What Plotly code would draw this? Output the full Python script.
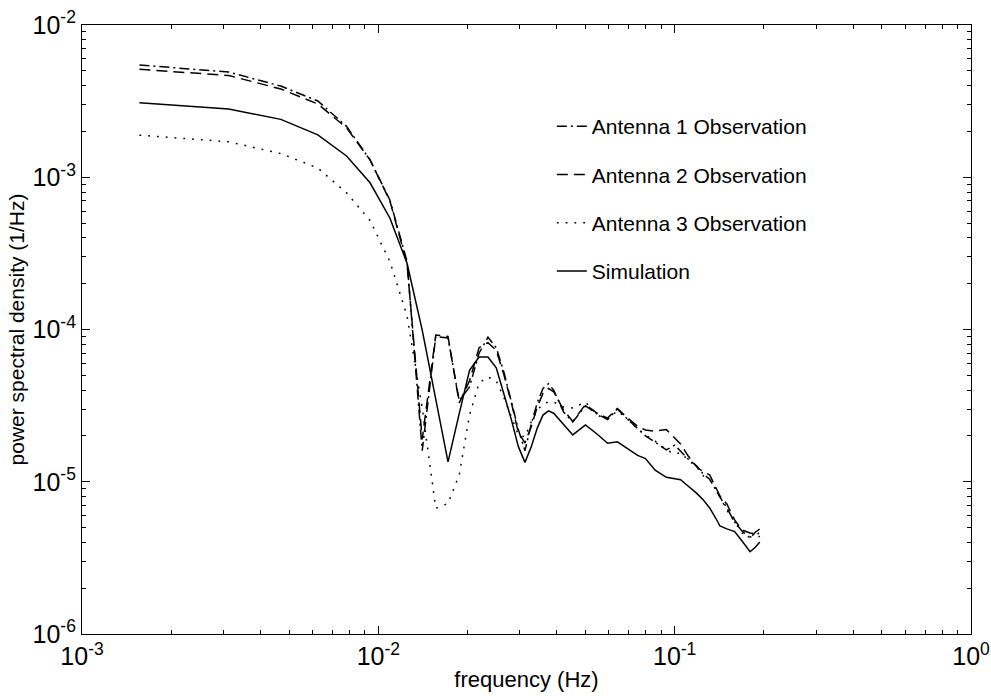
import plotly.graph_objects as go

# frequency bins (Hz)
freq = [0.0015625, 0.003125, 0.0046875, 0.00625, 0.0078125, 0.009375, 0.0109375,
        0.0125, 0.0140625, 0.015625, 0.0171875, 0.01875, 0.0203125, 0.021875,
        0.0234375, 0.025, 0.0265625, 0.028125, 0.0296875, 0.03125, 0.0328125,
        0.034375, 0.0359375, 0.0375, 0.0390625,
        0.0421875, 0.0453125, 0.05, 0.0546875, 0.059375, 0.0640625, 0.06875,
        0.075, 0.0796875, 0.0859375, 0.09375, 0.1, 0.1046875, 0.1109375,
        0.11875, 0.125, 0.13125, 0.1375, 0.1421875, 0.15, 0.159375, 0.16875,
        0.1796875, 0.1875, 0.19375]

antenna1 = [5.46e-3, 4.91e-3, 3.97e-3, 3.17e-3, 2.16e-3, 1.30e-3, 7.1e-4,
            2.8e-4, 1.6e-5, 9.0e-5, 8.8e-5, 3.4e-5, 4.2e-5, 7.0e-5,
            8.9e-5, 7.6e-5, 5.2e-5, 3.4e-5, 2.2e-5, 1.6e-5, 2.4e-5,
            3.3e-5, 4.1e-5, 4.4e-5, 4.0e-5,
            2.87e-5, 2.47e-5, 3.15e-5, 2.79e-5, 2.56e-5, 3.01e-5, 2.62e-5,
            2.25e-5, 2.0e-5, 1.82e-5, 1.62e-5, 1.74e-5, 1.59e-5, 1.41e-5,
            1.27e-5, 1.12e-5, 1.04e-5, 8.83e-6, 7.94e-6, 6.73e-6, 5.44e-6, 4.75e-6,
            4.27e-6, 4.68e-6, 4.90e-6]

antenna2 = [5.12e-3, 4.66e-3, 3.80e-3, 3.03e-3, 2.11e-3, 1.30e-3, 7.0e-4,
            2.7e-4, 1.9e-5, 9.2e-5, 9.0e-5, 3.3e-5, 4.6e-5, 7.6e-5,
            8.2e-5, 7.3e-5, 5.0e-5, 3.3e-5, 2.1e-5, 1.8e-5, 2.3e-5,
            3.1e-5, 3.8e-5, 4.1e-5, 3.9e-5,
            2.96e-5, 2.49e-5, 3.22e-5, 2.82e-5, 2.62e-5, 3.03e-5, 2.66e-5,
            2.31e-5, 2.19e-5, 2.15e-5, 2.20e-5, 1.94e-5, 1.77e-5, 1.48e-5,
            1.25e-5, 1.16e-5, 1.11e-5, 9.23e-6, 8.06e-6, 7.14e-6, 5.61e-6, 4.82e-6,
            4.61e-6, 4.54e-6, 4.34e-6]

antenna3 = [1.89e-3, 1.71e-3, 1.43e-3, 1.15e-3, 7.9e-4, 5.2e-4, 2.8e-4,
            1.23e-4, 3.05e-5, 6.7e-6, 7.2e-6, 1.11e-5, 2.74e-5, 4.46e-5,
            4.88e-5, 4.59e-5, 3.55e-5, 2.62e-5, 2.03e-5, 1.97e-5, 2.47e-5,
            2.96e-5, 3.24e-5, 3.34e-5, 3.34e-5,
            3.10e-5, 3.05e-5, 3.34e-5, 2.74e-5, 2.58e-5, 2.92e-5, 2.62e-5,
            2.22e-5, 2.03e-5, 1.85e-5, 1.62e-5, 1.52e-5, 1.55e-5, 1.39e-5,
            1.25e-5, 1.09e-5, 1.03e-5, 9.1e-6, 7.94e-6, 6.52e-6, 5.44e-6, 4.61e-6,
            4.34e-6, 4.40e-6, 4.68e-6]

simulation = [3.09e-3, 2.81e-3, 2.40e-3, 1.90e-3, 1.38e-3, 9.2e-4, 5.4e-4,
              2.72e-4, 9.9e-5, 3.5e-5, 1.35e-5, 2.8e-5, 5.4e-5, 6.6e-5,
              6.6e-5, 5.6e-5, 3.8e-5, 2.55e-5, 1.70e-5, 1.34e-5, 1.70e-5,
              2.25e-5, 2.74e-5, 2.92e-5, 2.82e-5,
              2.39e-5, 2.03e-5, 2.36e-5, 2.06e-5, 1.79e-5, 1.83e-5, 1.67e-5,
              1.49e-5, 1.42e-5, 1.19e-5, 1.07e-5, 1.04e-5, 1.03e-5, 9.37e-6,
              8.39e-6, 7.59e-6, 6.73e-6, 5.78e-6, 5.12e-6, 4.9e-6, 4.71e-6, 4.08e-6,
              3.47e-6, 3.73e-6, 4.02e-6]

names = ["Antenna 1 Observation", "Antenna 2 Observation",
         "Antenna 3 Observation", "Simulation"]

x_tickvals = [0.001, 0.01, 0.1, 1]
x_ticktext = ["10<sup>-3</sup>", "10<sup>-2</sup>", "10<sup>-1</sup>", "10<sup>0</sup>"]
y_tickvals = [1e-6, 1e-5, 1e-4, 1e-3, 1e-2]
y_ticktext = ["10<sup>-6</sup>", "10<sup>-5</sup>", "10<sup>-4</sup>", "10<sup>-3</sup>", "10<sup>-2</sup>"]

FONT = "Liberation Sans, Arial, sans-serif"

fig = go.Figure()
series = [antenna1, antenna2, antenna3, simulation]
dashes = ["10px,4px,2px,4px", "11px,6px", "1.8px,7px", "solid"]
for i, (vals, nm, ds) in enumerate(zip(series, names, dashes)):
    fig.add_trace(go.Scatter(
        x=freq, y=vals, mode="lines", name=nm, legendgroup=str(i),
        line=dict(color="black", width=1.5, dash=ds)))

axis_common = dict(
    type="log", showgrid=False, zeroline=False, automargin=False,
    showline=True, linecolor="black", linewidth=1.2, mirror="ticks",
    ticks="inside", ticklen=8, tickwidth=1, tickcolor="black",
    tickfont=dict(family=FONT, size=25, color="black"),
    minor=dict(ticks="inside", ticklen=4, tickcolor="black", dtick="D1", showgrid=False),
)

fig.update_layout(
    width=991, height=696,
    margin=dict(l=82, r=20, t=25, b=62),
    paper_bgcolor="white", plot_bgcolor="white",
    font=dict(family=FONT, color="black"),
    xaxis=dict(axis_common, range=[-3, 0], tickvals=x_tickvals, ticktext=x_ticktext,
               title=dict(text="frequency (Hz)", font=dict(family=FONT, size=22), standoff=2)),
    yaxis=dict(axis_common, range=[-6, -2], tickvals=y_tickvals, ticktext=y_ticktext,
               title=dict(text="power spectral density (1/Hz)", font=dict(family=FONT, size=21), standoff=2)),
    legend=dict(x=0.5285, y=0.867, xanchor="left", yanchor="top",
                font=dict(family=FONT, size=21, color="black"),
                bgcolor="rgba(0,0,0,0)", borderwidth=0,
                tracegroupgap=18, traceorder="grouped"),
    showlegend=True,
)

fig.write_html("out.html")
